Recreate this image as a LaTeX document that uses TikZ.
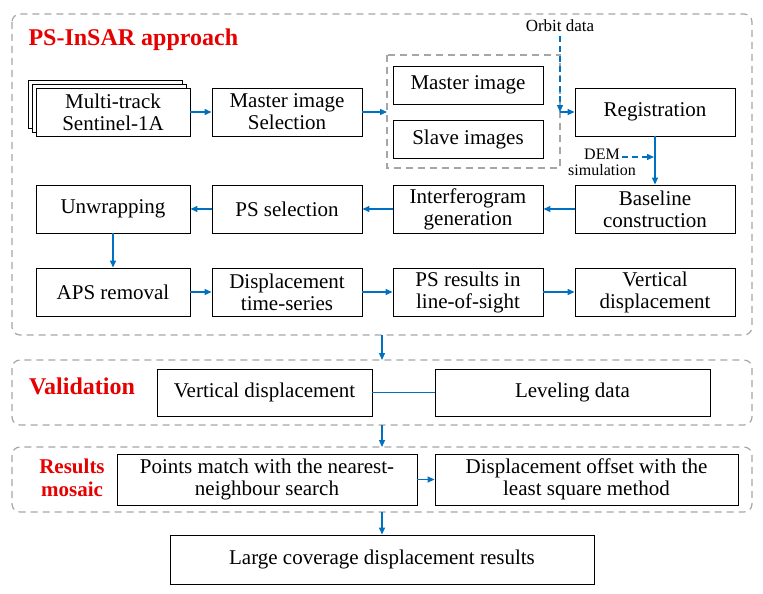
\documentclass[tikz,border=0pt]{standalone}
\usepackage{fontspec}
\setmainfont{Liberation Serif}
\usetikzlibrary{arrows.meta}
\definecolor{ablue}{RGB}{0,112,192}
\definecolor{ared}{RGB}{230,0,0}
\begin{document}
\begin{tikzpicture}[x=1pt,y=-1pt,
  box/.style={draw,line width=0.9pt,fill=white,align=center,inner sep=0pt,font=\fontsize{21}{22}\selectfont},
  grp/.style={draw=gray!70,dashed,line width=1.2pt,dash pattern=on 7pt off 5pt},
  arr/.style={ablue,line width=1.3pt,-{Triangle[length=7pt,width=6pt]}},
  ttl/.style={ared,font=\bfseries\fontsize{24}{26}\selectfont,align=center}]
\useasboundingbox (0,0) rectangle (763,594);
\newcommand{\bx}[6]{\node[box,minimum width=#4-#2,minimum height=#5-#3] (#1) at ({(#2+#4)/2},{(#3+#5)/2}) {#6};}
% groups
\draw[grp,rounded corners=8pt] (12,14) rectangle (752,335);
\draw[grp,rounded corners=8pt] (12,360) rectangle (752,425);
\draw[grp,rounded corners=8pt] (12,447) rectangle (752,512);
\draw[grp] (387,55) rectangle (560,168);
\node[ttl,anchor=west] (t1) at (25,40) {PS-InSAR approach};
\node[ttl] (t2) at (82,386) {Validation};
\node[ttl,font=\bfseries\fontsize{21}{23}\selectfont] (t3) at (72,478) {Results\\mosaic};
% row 1
\node[draw,line width=0.9pt,fill=white,minimum width=154,minimum height=48] (s2) at (105,104) {};
\node[draw,line width=0.9pt,fill=white,minimum width=154,minimum height=48] (s1) at (109,108) {};
\bx{mt}{36}{88}{190}{136}{Multi-track\\Sentinel-1A}
\bx{ms}{212}{88}{362}{136}{Master image\\Selection}
\bx{mi}{393}{66}{543}{104}{Master image}
\bx{sl}{393}{120}{543}{158}{Slave images}
\bx{rg}{575}{88}{735}{136}{Registration}
% row 2
\bx{uw}{36}{185}{190}{233}{Unwrapping}
\bx{ps}{212}{185}{362}{233}{PS selection}
\bx{ig}{393}{185}{543}{233}{Interferogram\\generation}
\bx{bc}{575}{185}{735}{233}{Baseline\\construction}
% row 3
\bx{aps}{36}{268}{190}{316}{APS removal}
\bx{dt}{212}{268}{362}{316}{Displacement\\time-series}
\bx{pr}{393}{268}{543}{316}{PS results in\\line-of-sight}
\bx{vd}{575}{268}{735}{316}{Vertical\\displacement}
% validation
\bx{v1}{157}{369}{372}{416}{Vertical displacement}
\bx{v2}{435}{369}{710}{416}{Leveling data}
% mosaic
\bx{m1}{117}{454}{417}{505}{Points match with the nearest-\\neighbour search}
\bx{m2}{435}{454}{738}{505}{Displacement offset with the\\least square method}
\bx{lc}{170}{535}{594}{584}{Large coverage displacement results}
% extra labels
\node[font=\fontsize{17}{18}\selectfont] (orb) at (560,26) {Orbit data};
\node[font=\fontsize{16}{16}\selectfont,align=center] (dem) at (602,162) {DEM\\simulation};
\coordinate (gr) at (560,112);
\coordinate (gb) at (382,335);
\coordinate (vt) at (382,360);
\coordinate (vb) at (382,425);
\coordinate (rt) at (382,447);
\coordinate (rb) at (382,512);
% arrows
\draw[arr] (mt) -- (ms);
\draw[arr] (ms.east) -- (387,112);
\draw[arr] (gr) -- (rg.west);
\draw[arr,dashed,dash pattern=on 6pt off 4pt] (orb.south) -- (gr);
\draw[arr] (rg) -- (bc);
\draw[arr,dashed,dash pattern=on 6pt off 4pt] (622,157) -- (654,157);
\draw[arr] (bc) -- (ig);
\draw[arr] (ig) -- (ps);
\draw[arr] (ps) -- (uw);
\draw[arr] (uw) -- (aps);
\draw[arr] (aps) -- (dt);
\draw[arr] (dt) -- (pr);
\draw[arr] (pr) -- (vd);
\draw[arr] (gb) -- (vt);
\draw[ablue,line width=1.3pt] (v1) -- (v2);
\draw[arr] (vb) -- (rt);
\draw[arr] (m1) -- (m2);
\draw[arr] (rb) -- (lc);
\end{tikzpicture}
\end{document}
